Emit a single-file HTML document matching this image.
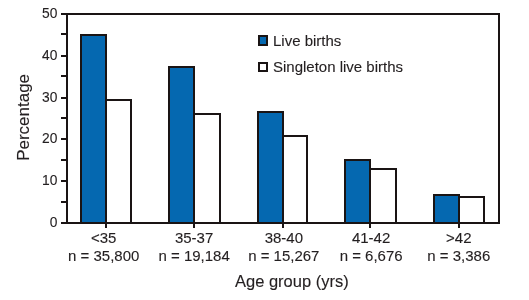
<!DOCTYPE html>
<html><head><meta charset="utf-8"><style>
html,body{margin:0;padding:0;background:#fff;}
body{width:529px;height:300px;overflow:hidden;}
svg{display:block;will-change:transform;}

text{font-family:"Liberation Sans",sans-serif;fill:#231f20;stroke:#231f20;stroke-width:0.12px;}
</style></head><body>
<svg width="529" height="300" viewBox="0 0 529 300">
<g shape-rendering="crispEdges">
<rect x="61" y="13" width="439" height="2" fill="#1a1414"/>
<rect x="498" y="13" width="2" height="211" fill="#1a1414"/>
<rect x="61" y="222" width="439" height="2" fill="#1a1414"/>
<rect x="66" y="13" width="2" height="211" fill="#1a1414"/>
<rect x="61" y="13" width="6" height="2" fill="#1a1414"/>
<rect x="61" y="33" width="6" height="2" fill="#1a1414"/>
<rect x="61" y="55" width="6" height="2" fill="#1a1414"/>
<rect x="61" y="75" width="6" height="2" fill="#1a1414"/>
<rect x="61" y="97" width="6" height="2" fill="#1a1414"/>
<rect x="61" y="117" width="6" height="2" fill="#1a1414"/>
<rect x="61" y="138" width="6" height="2" fill="#1a1414"/>
<rect x="61" y="159" width="6" height="2" fill="#1a1414"/>
<rect x="61" y="180" width="6" height="2" fill="#1a1414"/>
<rect x="61" y="201" width="6" height="2" fill="#1a1414"/>
<rect x="61" y="222" width="6" height="2" fill="#1a1414"/>
<rect x="80" y="34" width="27" height="190" fill="#1a1414"/>
<rect x="82" y="36" width="23" height="186" fill="#0568b0"/>
<rect x="105" y="99" width="27" height="125" fill="#1a1414"/>
<rect x="107" y="101" width="23" height="121" fill="#fff"/>
<rect x="105" y="34" width="2" height="190" fill="#1a1414"/>
<rect x="105" y="222" width="2" height="6" fill="#1a1414"/>
<rect x="168" y="66" width="27" height="158" fill="#1a1414"/>
<rect x="170" y="68" width="23" height="154" fill="#0568b0"/>
<rect x="193" y="113" width="28" height="111" fill="#1a1414"/>
<rect x="195" y="115" width="24" height="107" fill="#fff"/>
<rect x="193" y="66" width="2" height="158" fill="#1a1414"/>
<rect x="193" y="222" width="2" height="6" fill="#1a1414"/>
<rect x="257" y="111" width="27" height="113" fill="#1a1414"/>
<rect x="259" y="113" width="23" height="109" fill="#0568b0"/>
<rect x="282" y="135" width="26" height="89" fill="#1a1414"/>
<rect x="284" y="137" width="22" height="85" fill="#fff"/>
<rect x="282" y="111" width="2" height="113" fill="#1a1414"/>
<rect x="282" y="222" width="2" height="6" fill="#1a1414"/>
<rect x="344" y="159" width="27" height="65" fill="#1a1414"/>
<rect x="346" y="161" width="23" height="61" fill="#0568b0"/>
<rect x="369" y="168" width="28" height="56" fill="#1a1414"/>
<rect x="371" y="170" width="24" height="52" fill="#fff"/>
<rect x="369" y="159" width="2" height="65" fill="#1a1414"/>
<rect x="369" y="222" width="2" height="6" fill="#1a1414"/>
<rect x="433" y="194" width="27" height="30" fill="#1a1414"/>
<rect x="435" y="196" width="23" height="26" fill="#0568b0"/>
<rect x="458" y="196" width="27" height="28" fill="#1a1414"/>
<rect x="460" y="198" width="23" height="24" fill="#fff"/>
<rect x="458" y="194" width="2" height="30" fill="#1a1414"/>
<rect x="458" y="222" width="2" height="6" fill="#1a1414"/>
<rect x="258" y="35" width="10" height="11" fill="#1a1414"/>
<rect x="260" y="37" width="6" height="7" fill="#0568b0"/>
<rect x="258" y="62" width="10" height="10" fill="#1a1414"/>
<rect x="260" y="64" width="6" height="6" fill="#fff"/>
</g>
<text transform="translate(57.4 18.3) scale(1 1.02)" font-size="13.8" text-anchor="end">50</text>
<text transform="translate(57.4 60.3) scale(1 1.02)" font-size="13.8" text-anchor="end">40</text>
<text transform="translate(57.4 102.3) scale(1 1.02)" font-size="13.8" text-anchor="end">30</text>
<text transform="translate(57.4 143.3) scale(1 1.02)" font-size="13.8" text-anchor="end">20</text>
<text transform="translate(57.4 185.3) scale(1 1.02)" font-size="13.8" text-anchor="end">10</text>
<text transform="translate(57.4 227.3) scale(1 1.02)" font-size="13.8" text-anchor="end">0</text>
<text transform="translate(103.7 243) scale(1 1.02)" font-size="15" text-anchor="middle">&lt;35</text>
<text transform="translate(103.7 261) scale(1 1.02)" font-size="15" text-anchor="middle">n = 35,800</text>
<text transform="translate(194.1 243) scale(1 1.02)" font-size="15" text-anchor="middle">35-37</text>
<text transform="translate(194.1 261) scale(1 1.02)" font-size="15" text-anchor="middle">n = 19,184</text>
<text transform="translate(283.8 243) scale(1 1.02)" font-size="15" text-anchor="middle">38-40</text>
<text transform="translate(283.8 261) scale(1 1.02)" font-size="15" text-anchor="middle">n = 15,267</text>
<text transform="translate(371.1 243) scale(1 1.02)" font-size="15" text-anchor="middle">41-42</text>
<text transform="translate(371.1 261) scale(1 1.02)" font-size="15" text-anchor="middle">n = 6,676</text>
<text transform="translate(458.8 243) scale(1 1.02)" font-size="15" text-anchor="middle">&gt;42</text>
<text transform="translate(458.8 261) scale(1 1.02)" font-size="15" text-anchor="middle">n = 3,386</text>
<text transform="translate(273 46) scale(1 1.02)" font-size="15" text-anchor="start">Live births</text>
<text transform="translate(273 72) scale(1 1.02)" font-size="15" text-anchor="start">Singleton live births</text>
<text transform="translate(291.8 287) scale(1 1.02)" font-size="16.5" text-anchor="middle">Age group (yrs)</text>
<text x="0" y="0" font-size="16.5" text-anchor="middle" transform="translate(28.8 117.4) rotate(-90) scale(1.03 1)">Percentage</text>
</svg>
</body></html>
